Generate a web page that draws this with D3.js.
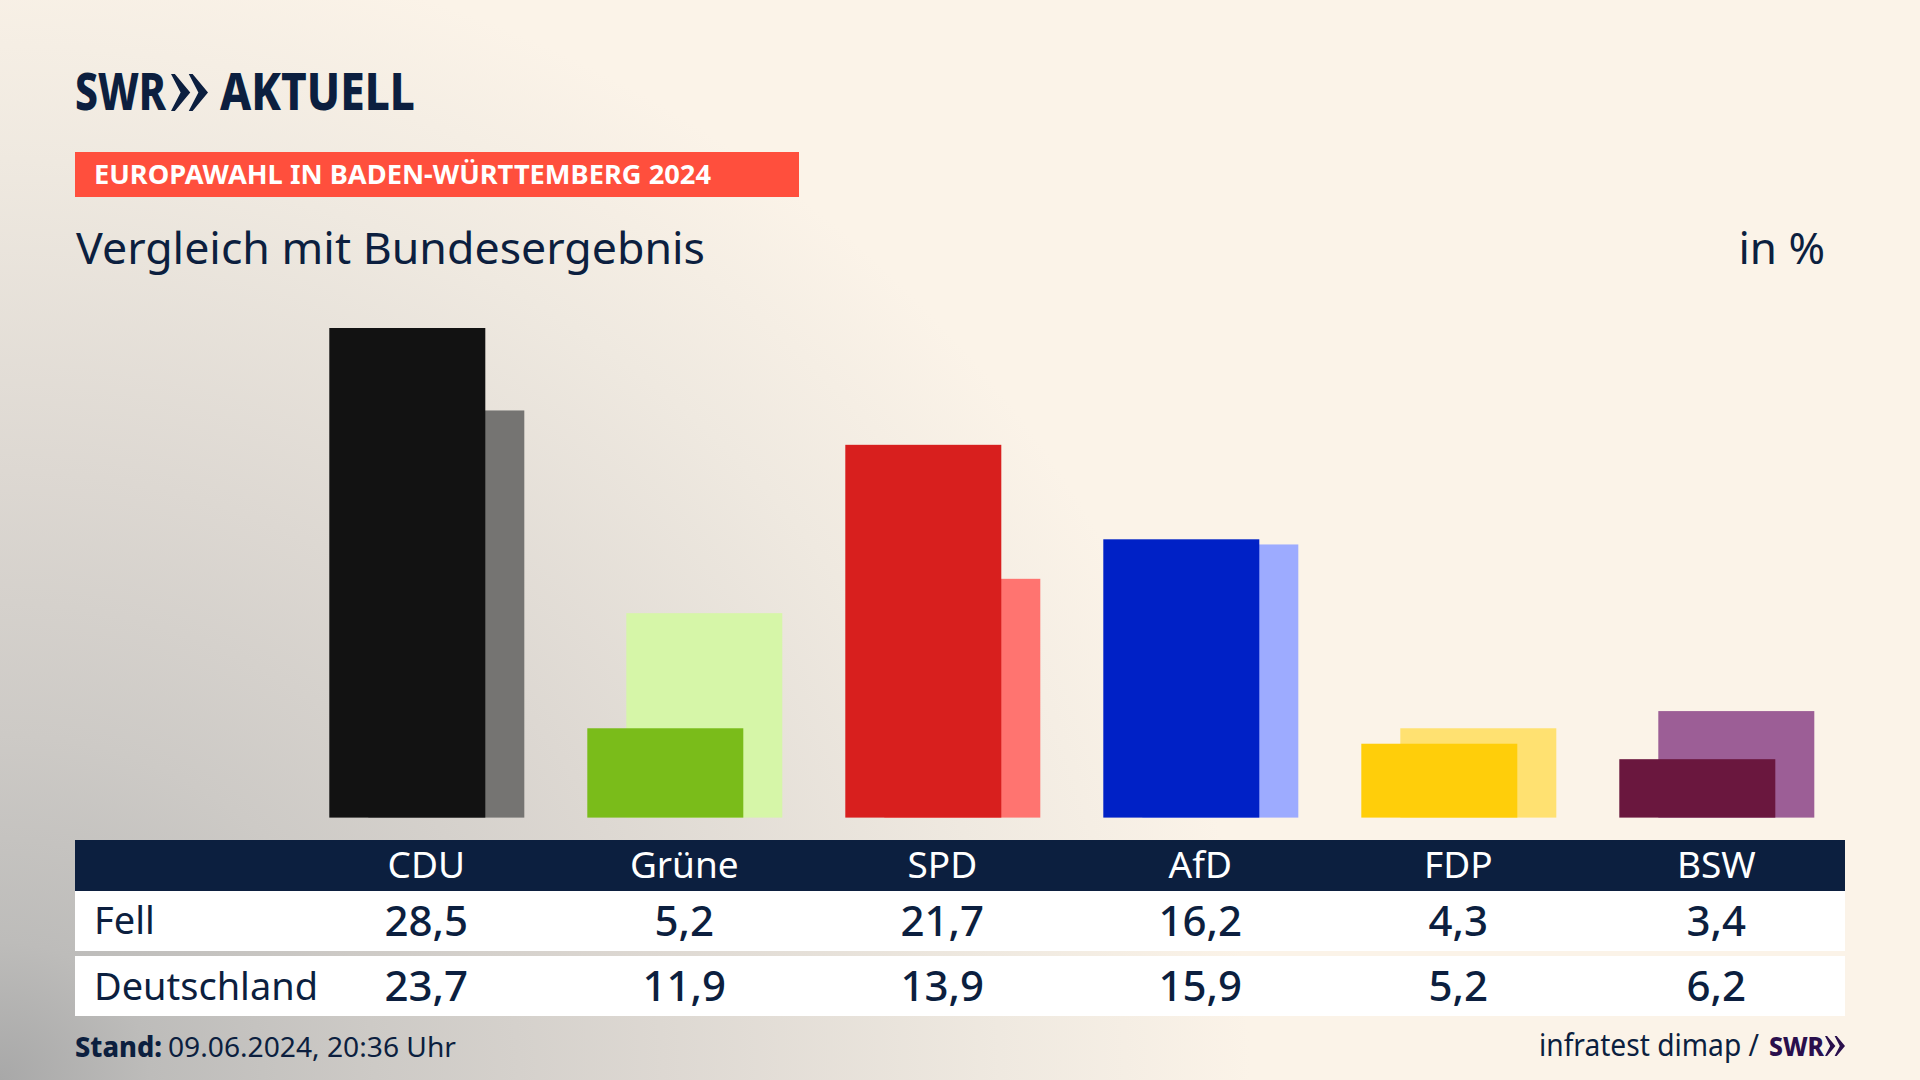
<!DOCTYPE html>
<html lang="de"><head><meta charset="utf-8"><title>Vergleich mit Bundesergebnis</title>
<style>html,body{margin:0;padding:0;background:#fbf3e8}svg{display:block}text{font-family:"Noto Sans",sans-serif}</style>
<script src="https://cdn.jsdelivr.net/npm/d3@7/dist/d3.min.js"></script></head><body><div id="chart"></div>
<script>
const categories=["CDU","Grüne","SPD","AfD","FDP","BSW"];
const fellValues=[28.5,5.2,21.7,16.2,4.3,3.4];
const deutschlandValues=[23.7,11.9,13.9,15.9,5.2,6.2];
const rowLabels=["Fell","Deutschland"];
const darkColors=["#121212","#7abc1a","#d81f1e","#0021c6","#ffce0a","#6a173e"];
const lightColors=["#757472","#d6f6a8","#ff7470","#9dabff","#ffe171","#9c5e96"];
const fmt=v=>d3.format(".1f")(v).replace(".",",");
const navy="#0c1f3f";
const W=1920,H=1080;
const svg=d3.select("#chart").append("svg").attr("width",W).attr("height",H).attr("viewBox",[0,0,W,H]);
const defs=svg.append("defs");
const grad=defs.append("radialGradient").attr("id","bg").attr("gradientUnits","userSpaceOnUse")
 .attr("cx",0).attr("cy",0).attr("r",1).attr("gradientTransform","translate(0 1080) scale(1250 1150)");
[[0,"#a8a8a8"],[.12,"#bdbcba"],[.3,"#cdcac6"],[.53,"#ddd8d2"],[.8,"#efe9e0"],[1,"#fbf3e8"]].forEach(([o,c])=>grad.append("stop").attr("offset",o).attr("stop-color",c));
svg.append("rect").attr("width",W).attr("height",H).attr("fill","#fbf3e8");
svg.append("rect").attr("width",W).attr("height",H).attr("fill","url(#bg)");

function txt(s,x,y,size,opt={}){
 const t=svg.append("text").attr("x",x).attr("y",y).attr("font-size",size).attr("fill",opt.fill||navy)
  .attr("font-weight",opt.weight||400).attr("text-anchor",opt.anchor||"start").text(s);
 if(opt.len)t.attr("textLength",opt.len).attr("lengthAdjust","spacingAndGlyphs");
 return t;}
function chevrons(x,y,w,h,fill){
 const cw=w*.52,off=w-cw;
 [0,off].forEach(dx=>{
  const p=d3.path();p.moveTo(x+dx,y);p.lineTo(x+dx+cw*.2,y);p.lineTo(x+dx+cw,y+h/2);p.lineTo(x+dx+cw*.2,y+h);p.lineTo(x+dx,y+h);p.lineTo(x+dx+cw*.5,y+h/2);p.closePath();
  svg.append("path").attr("d",p.toString()).attr("fill",fill);});
}
// logo
txt("SWR",75,110,52,{weight:800,len:91});
chevrons(171,74,37,37,navy);
txt("AKTUELL",220,110,52,{weight:800,len:195});
// banner
svg.append("rect").attr("x",75).attr("y",152).attr("width",724).attr("height",45).attr("fill","#ff4f3d");
txt("EUROPAWAHL IN BADEN-WÜRTTEMBERG 2024",94,184,27,{weight:700,fill:"#fff",len:617});
// heading
txt("Vergleich mit Bundesergebnis",76,264,44,{len:629});
txt("in %",1825,264,44,{anchor:"end"});

// scales
const x=d3.scaleBand().domain(categories).range([329.3,1814.3]).paddingInner(63/258).paddingOuter(0);
const y=d3.scaleLinear().domain([0,28.5]).range([817.6,328]);
const barW=x.bandwidth()*.8, barOff=x.bandwidth()-barW;
const rows=categories.map((c,i)=>({c,a:fellValues[i],b:deutschlandValues[i],dark:darkColors[i],light:lightColors[i]}));
svg.append("g").selectAll("rect").data(rows).join("rect")
 .attr("x",d=>x(d.c)+barOff).attr("y",d=>y(d.b)).attr("width",barW).attr("height",d=>y(0)-y(d.b)).attr("fill",d=>d.light);
svg.append("g").selectAll("rect").data(rows).join("rect")
 .attr("x",d=>x(d.c)).attr("y",d=>y(d.a)).attr("width",barW).attr("height",d=>y(0)-y(d.a)).attr("fill",d=>d.dark);

// table
const tableX=75,tableW=1770;
svg.append("rect").attr("x",tableX).attr("y",840).attr("width",tableW).attr("height",51).attr("fill",navy);
svg.append("rect").attr("x",tableX).attr("y",891).attr("width",tableW).attr("height",60).attr("fill","#fff");
svg.append("rect").attr("x",tableX).attr("y",956).attr("width",tableW).attr("height",60).attr("fill","#fff");
const cx=c=>x(c)+x.bandwidth()/2-.5;
categories.forEach(c=>txt(c,cx(c),878,37,{anchor:"middle",fill:"#fff"}));
txt(rowLabels[0],94,934,38);
txt(rowLabels[1],94,1000,38,{len:224});
rows.forEach(d=>{
 txt(fmt(d.a),cx(d.c),936,42,{anchor:"middle",weight:500});
 txt(fmt(d.b),cx(d.c),1001,42,{anchor:"middle",weight:500});
});
// footer
txt("Stand:",75,1057,28,{weight:800,len:87});
txt("09.06.2024, 20:36 Uhr",168,1057,28,{len:288});
txt("infratest dimap /",1539,1056,30,{len:220});
txt("SWR",1769,1056,27,{weight:800,fill:"#2a0f4d",len:55});
chevrons(1825,1036,20,20,"#2a0f4d");
</script></body></html>
